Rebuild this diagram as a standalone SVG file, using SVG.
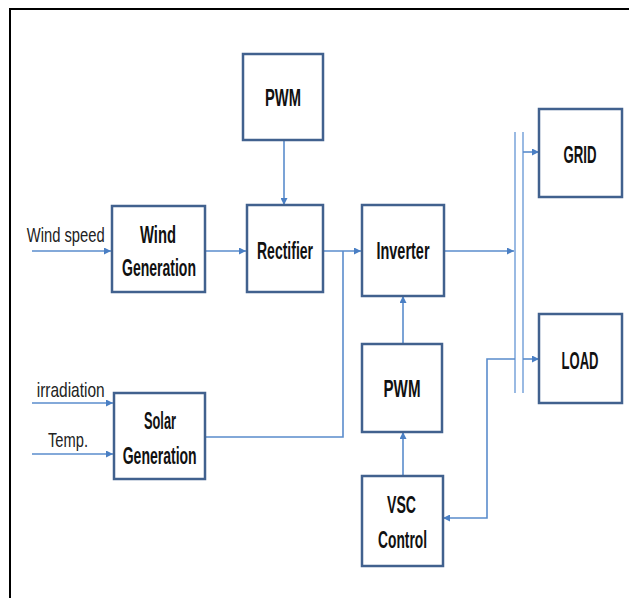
<svg xmlns="http://www.w3.org/2000/svg" width="629" height="598" viewBox="0 0 629 598">
<defs>
<style>
.box{fill:#fff;stroke:#41618e;stroke-width:2.5}
.lbl{font-family:"Liberation Sans",Arial,sans-serif;font-weight:bold;font-size:24px;fill:#111;text-anchor:middle}
.in{font-family:"Liberation Sans",Arial,sans-serif;font-size:21px;fill:#222}
.c{fill:none;stroke:#5a8ccc;stroke-width:1.6}
.bus{fill:none;stroke:#8fb3e0;stroke-width:1.8}
</style>
<marker id="a" viewBox="0 0 10 10" refX="10" refY="5" markerWidth="7" markerHeight="7" markerUnits="userSpaceOnUse" orient="auto">
<path d="M0,0 L10,5 L0,10 z" fill="#4a7fc4"/>
</marker>
</defs>
<rect width="629" height="598" fill="#fff"/>
<path d="M10,640 V9 H640" fill="none" stroke="#000" stroke-width="2"/>

<g id="connectors">
<line class="c" x1="32" y1="251" x2="111" y2="251" marker-end="url(#a)"/>
<line class="c" x1="205" y1="251" x2="246" y2="251" marker-end="url(#a)"/>
<line class="c" x1="284" y1="140" x2="284" y2="205" marker-end="url(#a)"/>
<line class="c" x1="323" y1="251" x2="361" y2="251" marker-end="url(#a)"/>
<polyline class="c" points="205,437 343,437 343,251"/>
<line class="c" x1="444" y1="251" x2="514" y2="251" marker-end="url(#a)"/>
<line class="bus" x1="515" y1="132" x2="515" y2="393"/>
<line class="bus" x1="523" y1="132" x2="523" y2="393"/>
<line class="c" x1="523" y1="152" x2="539" y2="152" marker-end="url(#a)"/>
<line class="c" x1="523" y1="359" x2="539" y2="359" marker-end="url(#a)"/>
<polyline class="c" points="515,359 487,359 487,518 443,518" marker-end="url(#a)"/>
<line class="c" x1="403" y1="344" x2="403" y2="296" marker-end="url(#a)"/>
<line class="c" x1="403" y1="476" x2="403" y2="432" marker-end="url(#a)"/>
<line class="c" x1="32" y1="403" x2="113" y2="403" marker-end="url(#a)"/>
<line class="c" x1="32" y1="454" x2="113" y2="454" marker-end="url(#a)"/>
</g>

<text class="in" x="26.7" y="242" textLength="78" lengthAdjust="spacingAndGlyphs">Wind speed</text>
<text class="in" x="36.7" y="397" textLength="68" lengthAdjust="spacingAndGlyphs">irradiation</text>
<text class="in" x="48" y="447" textLength="40" lengthAdjust="spacingAndGlyphs">Temp.</text>

<g id="pwm1">
<rect class="box" x="243" y="54" width="80" height="86"/>
<text class="lbl" x="283" y="106" textLength="36" lengthAdjust="spacingAndGlyphs">PWM</text>
</g>
<g id="wind">
<rect class="box" x="112" y="206" width="93" height="86"/>
<text class="lbl" x="158" y="243" textLength="36" lengthAdjust="spacingAndGlyphs">Wind</text>
<text class="lbl" x="159" y="276" textLength="74" lengthAdjust="spacingAndGlyphs">Generation</text>
</g>
<g id="rectifier">
<rect class="box" x="247" y="205" width="76" height="87"/>
<text class="lbl" x="285" y="259" textLength="56" lengthAdjust="spacingAndGlyphs">Rectifier</text>
</g>
<g id="inverter">
<rect class="box" x="362" y="205" width="82" height="91"/>
<text class="lbl" x="403" y="259" textLength="53" lengthAdjust="spacingAndGlyphs">Inverter</text>
</g>
<g id="grid">
<rect class="box" x="539" y="109" width="83" height="88"/>
<text class="lbl" x="580" y="163" textLength="33" lengthAdjust="spacingAndGlyphs">GRID</text>
</g>
<g id="load">
<rect class="box" x="539" y="314" width="83" height="89"/>
<text class="lbl" x="580" y="369" textLength="37" lengthAdjust="spacingAndGlyphs">LOAD</text>
</g>
<g id="pwm2">
<rect class="box" x="362" y="344" width="80" height="88"/>
<text class="lbl" x="402" y="397" textLength="37" lengthAdjust="spacingAndGlyphs">PWM</text>
</g>
<g id="vsc">
<rect class="box" x="362" y="476" width="81" height="90"/>
<text class="lbl" x="401.5" y="513" textLength="29" lengthAdjust="spacingAndGlyphs">VSC</text>
<text class="lbl" x="402.5" y="548" textLength="49" lengthAdjust="spacingAndGlyphs">Control</text>
</g>
<g id="solar">
<rect class="box" x="114" y="393" width="91" height="86"/>
<text class="lbl" x="160" y="429" textLength="32" lengthAdjust="spacingAndGlyphs">Solar</text>
<text class="lbl" x="159.7" y="464" textLength="74" lengthAdjust="spacingAndGlyphs">Generation</text>
</g>
</svg>
